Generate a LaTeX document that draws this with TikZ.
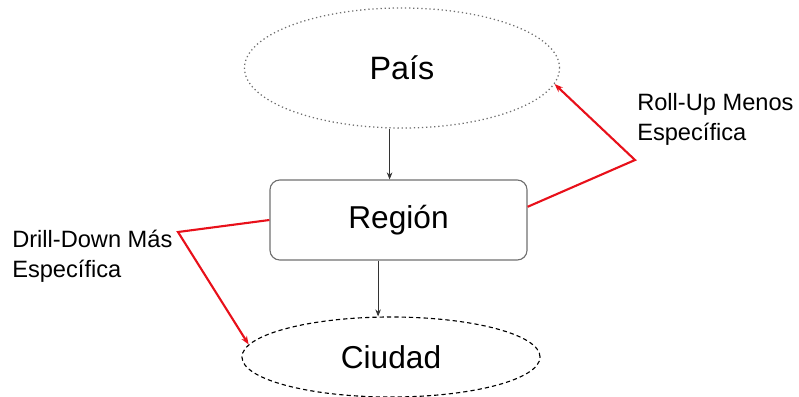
\documentclass[tikz,border=0pt]{standalone}
\usepackage{fontspec}
\setmainfont{Liberation Sans}
\usetikzlibrary{arrows.meta,calc,shapes.geometric}
\definecolor{cRojo}{HTML}{E8101A}
\definecolor{cPunteado}{HTML}{6E6E6E}
\definecolor{cBorde}{HTML}{707070}
\def\Lpais{País}
\def\Lregion{Región}
\def\Lciudad{Ciudad}
\def\Lrollup{Roll-Up Menos\\Específica}
\def\Ldrill{Drill-Down Más\\Específica}
\begin{document}
\begin{tikzpicture}[
  x=0.025cm, y=-0.025cm,
  elipsepunto/.style={
    ellipse, draw=cPunteado, dotted, line width=0.9pt, inner sep=0pt,
    minimum width=7.875cm, minimum height=3cm, font=\fontsize{23}{27}\selectfont
  },
  elipseraya/.style={
    ellipse, draw=black, dash pattern=on 3pt off 2.2pt, line width=0.8pt, inner sep=0pt,
    minimum width=7.45cm, minimum height=2cm, font=\fontsize{22.5}{27}\selectfont
  },
  caja/.style={
    draw=cBorde, line width=0.8pt, rounded corners=7pt, inner sep=0pt,
    minimum width=6.425cm, minimum height=2cm, font=\fontsize{22.5}{27}\selectfont
  },
  rotulo/.style={align=left, inner sep=0pt, font=\fontsize{16.8}{21}\selectfont},
  flecha/.style={-{Stealth[length=5pt,width=4pt]}, draw=black!80, line width=0.6pt},
  flecharoja/.style={-{Stealth[length=6pt,width=4.5pt]}, draw=cRojo, line width=1.5pt, line join=miter}
]
\useasboundingbox (0,0) rectangle (799,396);

% ── Tres niveles de la jerarquia ──
% (el \hspace corre el texto un poco a la izquierda, como en el original)
\node[elipsepunto] (pais)   at (402,68)    {\Lpais\hspace{0.45cm}};
\node[caja]        (region) at (398.5,220) {\Lregion\hspace{0.55cm}};
\node[elipseraya]  (ciudad) at (391,357)   {\Lciudad\hspace{0.3cm}};

% flechas negras entre niveles (un poco a la izquierda del centro)
\draw[flecha] ([xshift=-0.31cm]pais.south) -- ([xshift=-0.31cm]pais.south |- region.north);
\draw[flecha] ([xshift=-0.51cm]region.south) -- ([xshift=-0.51cm]region.south |- ciudad.north);

% ── Rotulos laterales (base = ultima linea) ──
\node[rotulo, anchor=base west] (rollup) at (637,140) {\Lrollup};
\node[rotulo, anchor=base west] (drill)  at (12,277)  {\Ldrill};

% codos de las lineas rojas
\coordinate (codoR) at (635,160);
\coordinate (codoD) at (178,232);

\draw[flecharoja] ([yshift=0.33cm]region.east) -- (codoR) -- (pais.-6);
\draw[flecharoja] (region.west) -- (codoD) -- (ciudad.175);

\end{tikzpicture}
\end{document}
